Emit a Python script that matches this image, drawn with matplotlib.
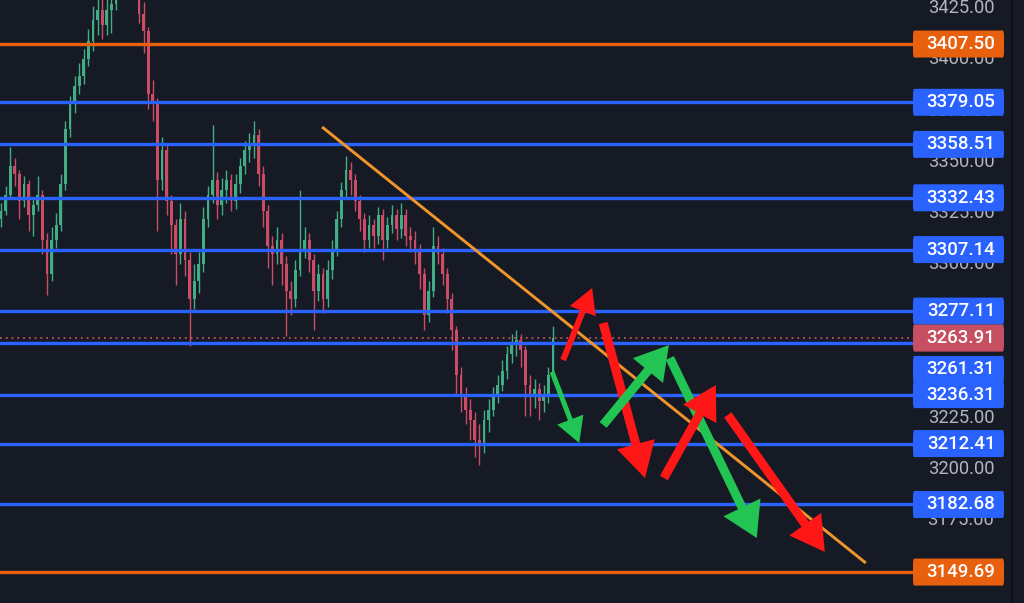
import matplotlib
matplotlib.use("Agg")
import matplotlib.pyplot as plt
from matplotlib.patches import FancyArrowPatch, FancyBboxPatch, ArrowStyle
from matplotlib.transforms import blended_transform_factory, offset_copy

# ---- price data (hourly candles) ----
first_open = 3322
closes = [3326, 3334, 3348, 3344, 3331, 3339, 3324, 3329, 3334, 3312,
          3295, 3312, 3319, 3339, 3366, 3378, 3387, 3392, 3400, 3409,
          3419, 3424, 3417, 3424, 3427, 3440, 3446, 3450, 3447, 3440,
          3422, 3414, 3383, 3378, 3341, 3356, 3331, 3319, 3305, 3322,
          3302, 3283, 3292, 3300, 3322, 3334, 3341, 3329, 3336, 3341,
          3331, 3339, 3348, 3356, 3358, 3363, 3344, 3326, 3309, 3305,
          3312, 3300, 3287, 3283, 3297, 3307, 3312, 3302, 3287, 3295,
          3283, 3297, 3307, 3322, 3336, 3346, 3341, 3331, 3322, 3312,
          3319, 3314, 3324, 3312, 3319, 3324, 3317, 3324, 3314, 3312,
          3307, 3295, 3275, 3287, 3309, 3305, 3295, 3283, 3268, 3246,
          3236, 3229, 3224, 3214, 3212, 3224, 3229, 3236, 3241, 3248,
          3256, 3261, 3263, 3258, 3241, 3236, 3239, 3233, 3236, 3246,
          3263.91]
highs = [3330, 3338, 3357, 3352, 3346, 3343, 3341, 3333, 3343, 3336,
         3315, 3318, 3325, 3344, 3370, 3382, 3392, 3398, 3405, 3415,
         3426, 3432, 3430, 3434, 3436, 3446, 3452, 3456, 3455, 3450,
         3442, 3428, 3416, 3390, 3381, 3362, 3358, 3334, 3322, 3330,
         3326, 3306, 3300, 3306, 3328, 3338, 3368, 3345, 3342, 3346,
         3344, 3344, 3352, 3360, 3364, 3370, 3366, 3348, 3329, 3314,
         3318, 3315, 3304, 3292, 3302, 3336, 3318, 3315, 3305, 3300,
         3298, 3302, 3312, 3326, 3340, 3353, 3350, 3344, 3334, 3325,
         3324, 3322, 3328, 3327, 3323, 3329, 3327, 3330, 3327, 3318,
         3316, 3310, 3298, 3292, 3318, 3314, 3308, 3298, 3286, 3270,
         3250, 3240, 3234, 3228, 3222, 3229, 3234, 3240, 3246, 3253,
         3260, 3266, 3268, 3266, 3260, 3246, 3244, 3242, 3241, 3250,
         3270]
lows = [3318, 3324, 3332, 3338, 3322, 3328, 3316, 3314, 3326, 3305,
        3285, 3292, 3308, 3316, 3336, 3362, 3374, 3383, 3388, 3397,
        3404, 3412, 3410, 3412, 3413, 3424, 3436, 3441, 3438, 3430,
        3418, 3403, 3376, 3370, 3316, 3336, 3324, 3305, 3290, 3300,
        3294, 3260, 3278, 3286, 3296, 3318, 3330, 3322, 3324, 3330,
        3326, 3327, 3335, 3344, 3350, 3352, 3338, 3318, 3298, 3290,
        3300, 3290, 3265, 3275, 3279, 3294, 3303, 3296, 3268, 3282,
        3276, 3279, 3293, 3304, 3318, 3332, 3334, 3326, 3316, 3306,
        3308, 3308, 3310, 3302, 3308, 3315, 3312, 3313, 3309, 3306,
        3300, 3288, 3268, 3272, 3284, 3300, 3290, 3276, 3258, 3236,
        3228, 3222, 3214, 3206, 3202, 3208, 3218, 3226, 3232, 3238,
        3244, 3252, 3255, 3250, 3226, 3226, 3230, 3224, 3228, 3232,
        3243]

# ---- drawn levels ----
blue_levels = [3379.05, 3358.51, 3332.43, 3307.14, 3277.11,
               3261.31, 3236.31, 3212.41, 3182.68]
orange_levels = [3407.50, 3149.69]
last_price = 3263.91
# scale ticks left uncovered by the level labels
axis_ticks = [3425, 3400, 3375, 3350, 3325, 3300, 3225, 3200, 3175]

# trend line (bar index, price)
trend_start = (69.8, 3367.0)
trend_end = (188.0, 3154.1)

# scenario arrows: (tail, tip, colour, shaft px, head length px, head width px)
RED = "#ff1616"
GREEN = "#22c453"
scenario_arrows = [
    ((119.8, 3247.4), (125.7, 3212.7), GREEN, 5, 25, 28),
    ((122.2, 3253.2), (128.5, 3288.4), RED, 6, 25, 28),
    ((130.9, 3271.3), (140.0, 3195.6), RED, 9, 35, 39),
    ((130.9, 3221.5), (145.2, 3260.5), GREEN, 9, 33, 39),
    ((145.4, 3254.2), (164.3, 3166.3), GREEN, 9, 34, 41),
    ((144.1, 3195.6), (155.4, 3241.0), RED, 9, 33, 38),
    ((158.0, 3226.4), (179.1, 3159.5), RED, 9, 34, 39),
]

BG = "#161a25"
UP = "#40ad85"
DOWN = "#cc4c66"
BLUE = "#2962ff"
ORANGE = "#e8600e"
TREND = "#f0952a"
LAST = "#c65062"

W, H = 1024, 603
PLOT_W = 913
fig = plt.figure(figsize=(W / 100, H / 100), dpi=100, facecolor=BG)
ax = fig.add_axes([0, 0, PLOT_W / W, 1])
scale = fig.add_axes([PLOT_W / W, 0, (W - PLOT_W) / W, 1])

ymin, ymax = 3134.57, 3429.0
xmin, xmax = -0.22, 198.26
for a in (ax, scale):
    a.set_facecolor(BG)
    a.set_ylim(ymin, ymax)
    for s in a.spines.values():
        s.set_visible(False)
    a.set_xticks([])
    a.set_yticks([])
ax.set_xlim(xmin, xmax)
scale.set_xlim(0, 1)

# ---- candles ----
opens = [first_open] + closes[:-1]
idx = list(range(len(closes)))
for i, o, c, h, l in zip(idx, opens, closes, highs, lows):
    col = UP if c >= o else DOWN
    ax.vlines(i, l, h, color=col, lw=1.0, zorder=2)
    bottom = min(o, c)
    height = max(abs(c - o), 0.6)
    ax.bar(i, height, bottom=bottom, width=0.62, color=col, lw=0, zorder=2)

# ---- horizontal levels ----
for lv in blue_levels:
    ax.axhline(lv, color=BLUE, lw=2.4, zorder=3)
for lv in orange_levels:
    ax.axhline(lv, color=ORANGE, lw=2.4, zorder=3)
ax.axhline(last_price, color=LAST, lw=1.3, ls=(0, (1, 2.2)), zorder=3)

# ---- trend line ----
ax.plot([trend_start[0], trend_end[0]], [trend_start[1], trend_end[1]],
        color=TREND, lw=2.1, solid_capstyle="butt", zorder=4)

# ---- arrows ----
px = 72 / fig.dpi
for tail, tip, col, shaft, hl, hw in scenario_arrows:
    style = ArrowStyle.Simple(head_length=hl, head_width=hw, tail_width=shaft)
    arr = FancyArrowPatch(tail, tip, arrowstyle=style, mutation_scale=px,
                          color=col, lw=0, shrinkA=0, shrinkB=0, zorder=5)
    ax.add_patch(arr)

# ---- price scale ----
FONT = "Roboto"
tx = (961 - PLOT_W) / (W - PLOT_W)
for t in axis_ticks:
    scale.text(tx, t, f"{t:.2f}", color="#b2b5be", fontsize=13.2,
               family=FONT, ha="center", va="center", zorder=1)

trans = blended_transform_factory(scale.transAxes, scale.transData)
box_w = 91 / (W - PLOT_W)
box_h = 27 / (H / (ymax - ymin))


def price_box(value, color, dy_px=0):
    tr = offset_copy(trans, fig=fig, x=0, y=-dy_px * 72 / fig.dpi, units="points")
    box = FancyBboxPatch((0, value - box_h / 2), box_w, box_h,
                         boxstyle="round,pad=0,rounding_size=0.01",
                         transform=tr, facecolor=color, edgecolor="none",
                         zorder=3, mutation_aspect=box_h / 0.04)
    scale.add_patch(box)
    scale.text(tx, value, f"{value:.2f}", color="white", fontsize=13.4,
               family=FONT, fontweight="medium", ha="center", va="center",
               transform=tr, zorder=4)


for lv in orange_levels:
    price_box(lv, ORANGE)
for lv in blue_levels:
    if lv == 3261.31:
        price_box(lv, BLUE, dy_px=26)
    else:
        price_box(lv, BLUE)
price_box(last_price, LAST)

scale.axvline((1012 - PLOT_W) / (W - PLOT_W), color="#0e1018", lw=1.2, zorder=5)

fig.savefig("out.png", dpi=100, facecolor=BG)
